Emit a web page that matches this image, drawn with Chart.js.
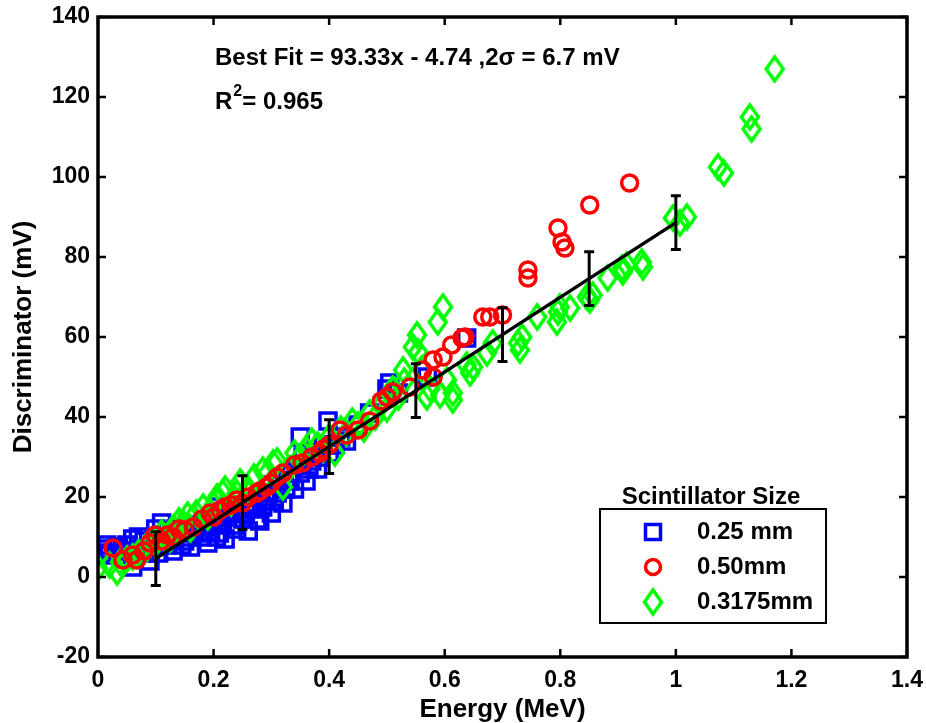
<!DOCTYPE html>
<html>
<head>
<meta charset="utf-8">
<script src="https://cdn.jsdelivr.net/npm/chart.js@4.4.0/dist/chart.umd.min.js"></script>
<style>
  body { margin: 0; background: #fff; }
  #wrap { width: 926px; height: 723px; }
</style>
</head>
<body>
<div id="wrap"><canvas id="plot"></canvas></div>
<script>
/*
  data
*/
var smallX = [0.005, 0.01, 0.02, 0.035, 0.05, 0.06, 0.07, 0.08, 0.09, 0.06, 0.08, 0.1, 0.11, 0.12, 0.12, 0.13,
  0.14, 0.15, 0.16, 0.16, 0.17, 0.18, 0.19, 0.2, 0.21, 0.21, 0.22, 0.23, 0.23, 0.24, 0.25, 0.26, 0.27, 0.28,
  0.29, 0.3, 0.3, 0.31, 0.32, 0.33, 0.34, 0.35, 0.35, 0.36, 0.37, 0.38, 0.39, 0.4, 0.398, 0.42, 0.45, 0.47,
  0.5, 0.505, 0.52, 0.57, 0.638,
  0.015, 0.03, 0.045, 0.055, 0.075, 0.095, 0.105, 0.125, 0.135, 0.145, 0.155, 0.175, 0.185, 0.195, 0.205,
  0.215, 0.225, 0.235, 0.245, 0.255, 0.265, 0.275, 0.285, 0.295, 0.305, 0.315, 0.325, 0.335, 0.345, 0.355,
  0.365, 0.375, 0.385, 0.41, 0.43];
var smallY = [7, 5.5, 6, 7.5, 8, 9.5, 10, 6, 4, 2.5, 9, 12, 13.5, 8, 11.5, 6.5,
  11, 9, 7.5, 12, 13, 10, 8.5, 14, 11, 17.5, 9.5, 16, 18, 12, 14.5, 11.5, 17, 14,
  19, 16, 23, 21, 18.5, 24, 22, 26, 35, 24, 29, 27, 33, 31, 39, 35, 38, 41,
  47, 48.5, 46, 50, 59.75,
  8, 7, 5, 6.5, 7, 8, 6, 9.5, 12, 8, 10, 11, 13.5, 11.5, 10,
  13, 15, 13, 17, 16, 18, 14.5, 17.5, 21, 19, 24, 22, 26, 28, 30,
  27, 31, 30, 33, 34];

var midX = [0.026, 0.043, 0.06, 0.067, 0.08, 0.099, 0.13, 0.15, 0.165, 0.194, 0.211, 0.23, 0.24, 0.26,
  0.275, 0.292, 0.32, 0.353, 0.384, 0.4, 0.419, 0.45, 0.51, 0.54, 0.562, 0.58, 0.58, 0.597, 0.612, 0.63,
  0.635, 0.666, 0.678, 0.7, 0.744, 0.744, 0.796, 0.803, 0.808, 0.851, 0.92,
  0.09, 0.11, 0.12, 0.14, 0.18, 0.2, 0.22, 0.25, 0.28, 0.3, 0.31, 0.34, 0.37, 0.39, 0.43, 0.47, 0.49, 0.5];
var midY = [7.25, 4.25, 5.5, 4.25, 6.5, 10.5, 10, 11.75, 12.5, 16, 16.75, 18, 19.25, 20,
  21, 22.5, 26, 28.5, 31, 33, 36.75, 36.75, 46.25, 47.5, 51.75, 50, 54.25, 55, 58, 59.75,
  60, 65, 65, 65.5, 76.75, 74.75, 87.25, 83.75, 82.25, 93, 98.5,
  8.5, 9, 10.5, 12, 14.5, 15, 17.5, 18.5, 21.5, 23.5, 25, 28, 30, 32, 35.5, 39, 44, 45];

var thinX = [0, 0.033, 0.038, 0.06, 0.085, 0.1, 0.115, 0.13, 0.147, 0.16, 0.182, 0.19, 0.206, 0.216, 0.23,
  0.246, 0.26, 0.285, 0.303, 0.32, 0.33, 0.35, 0.36, 0.38, 0.4, 0.41, 0.43, 0.45, 0.46, 0.48, 0.49, 0.505,
  0.5, 0.52, 0.528, 0.545, 0.552, 0.554, 0.569, 0.592, 0.588, 0.597, 0.604, 0.614, 0.614, 0.638, 0.644,
  0.649, 0.673, 0.683, 0.727, 0.73, 0.734, 0.76, 0.794, 0.796, 0.799, 0.817, 0.846, 0.851, 0.856, 0.882,
  0.907, 0.908, 0.915, 0.941, 0.943, 0.995, 1.007, 1.019, 1.073, 1.083, 1.128, 1.131, 1.171,
  0.02, 0.05, 0.07, 0.09, 0.11, 0.125, 0.14, 0.155, 0.17, 0.2, 0.22, 0.24, 0.27, 0.29, 0.31, 0.34,
  0.37, 0.39, 0.42, 0.44, 0.47, 0.51, 0.53, 0.56, 0.575];
var thinY = [2.25, 1.25, 3.75, 5, 7.25, 8.5, 10, 12.25, 13.5, 12, 17.5, 15, 20, 21, 18.5,
  23.75, 22, 26.75, 28.5, 22.5, 27, 30, 32, 33, 35, 31, 36, 38, 37, 40, 43, 46,
  42, 45, 51.75, 57.5, 60.5, 56.25, 45, 45.5, 63.75, 67.5, 49.25, 46, 44.25, 53, 51,
  52.5, 56, 58.5, 58.5, 56.75, 60, 65, 63.75, 66.25, 67.5, 67.25, 70, 69.25, 70.5, 74.75,
  77.25, 76.25, 78, 78.75, 77.5, 89.75, 88.5, 90, 102.5, 101, 115, 112, 127,
  3, 4.5, 6, 9, 11, 9.5, 14, 15.5, 16, 18, 22, 21, 25, 25.5, 29, 31,
  34, 32, 37, 39, 41, 47, 49, 52, 47];

// best fit line with 2 sigma error bars
var fitX = [0.1, 0.25, 0.4, 0.55, 0.7, 0.85, 1.0];
var fitY = [4.59, 18.59, 32.59, 46.59, 60.59, 74.59, 88.59];
var fitErr = 6.7;

var seriesNames = ['0.25 mm', '0.50mm', '0.3175mm'];
var xTicks = [0, 0.2, 0.4, 0.6, 0.8, 1, 1.2, 1.4];
var yTicks = [-20, 0, 20, 40, 60, 80, 100, 120, 140];

var blue = '#0000ff';
var red = '#ff0000';
var green = '#00ff00';
var font = "'Liberation Sans', Arial, sans-serif";

var pairs = (xs, ys) => xs.map((x, i) => ({x: x, y: ys[i]}));

// matlab style diamond, a bit taller than wide
var diamond = document.createElement('canvas');
diamond.width = 24;
diamond.height = 30;
(function () {
  var c = diamond.getContext('2d');
  c.strokeStyle = green;
  c.lineWidth = 3.5;
  c.beginPath();
  c.moveTo(12, 3);
  c.lineTo(20.5, 15);
  c.lineTo(12, 27);
  c.lineTo(3.5, 15);
  c.closePath();
  c.stroke();
})();

/*
  frame, ticks, error bars, text and legend
*/
var extras = {
  id: 'extras',
  afterDatasetsDraw(chart) {
    var ctx = chart.ctx;
    var xs = chart.scales.x, ys = chart.scales.y;
    ctx.save();
    ctx.strokeStyle = '#000';
    ctx.lineWidth = 3;
    fitX.forEach((x, i) => {
      var px = xs.getPixelForValue(x);
      var top = ys.getPixelForValue(fitY[i] + fitErr);
      var bot = ys.getPixelForValue(fitY[i] - fitErr);
      ctx.beginPath();
      ctx.moveTo(px, top); ctx.lineTo(px, bot);
      ctx.moveTo(px - 5, top); ctx.lineTo(px + 5, top);
      ctx.moveTo(px - 5, bot); ctx.lineTo(px + 5, bot);
      ctx.stroke();
    });
    ctx.restore();
  },
  afterDraw(chart) {
    var ctx = chart.ctx, a = chart.chartArea;
    var xs = chart.scales.x, ys = chart.scales.y;
    ctx.save();
    ctx.strokeStyle = '#000';

    // inward ticks on all four sides
    ctx.lineWidth = 2.5;
    ctx.beginPath();
    xTicks.forEach(v => {
      var px = xs.getPixelForValue(v);
      ctx.moveTo(px, a.bottom); ctx.lineTo(px, a.bottom - 8);
      ctx.moveTo(px, a.top); ctx.lineTo(px, a.top + 8);
    });
    yTicks.forEach(v => {
      var py = ys.getPixelForValue(v);
      ctx.moveTo(a.left, py); ctx.lineTo(a.left + 8, py);
      ctx.moveTo(a.right, py); ctx.lineTo(a.right - 8, py);
    });
    ctx.stroke();

    ctx.lineWidth = 3.5;
    ctx.strokeRect(a.left, a.top, a.right - a.left, a.bottom - a.top);

    // fit text
    ctx.fillStyle = '#000';
    ctx.textBaseline = 'middle';
    ctx.textAlign = 'left';
    ctx.font = 'bold 24px ' + font;
    ctx.fillText('Best Fit = 93.33x - 4.74 ,2\u03c3 = 6.7 mV', 215, 58);
    ctx.fillText('R', 215, 102);
    var rw = ctx.measureText('R').width;
    ctx.font = 'bold 16px ' + font;
    ctx.fillText('2', 215 + rw + 1, 92);
    var sw = ctx.measureText('2').width;
    ctx.font = 'bold 24px ' + font;
    ctx.fillText('= 0.965', 215 + rw + sw + 1, 102);

    // legend
    ctx.font = 'bold 24px ' + font;
    ctx.textAlign = 'center';
    ctx.fillText('Scintillator Size', 711, 497);
    ctx.lineWidth = 2;
    ctx.strokeRect(600, 509, 226, 114);
    ctx.textAlign = 'left';
    var rows = [532, 567, 602];
    var mx = 653;
    ctx.lineWidth = 3.5;
    ctx.strokeStyle = blue;
    ctx.strokeRect(mx - 7.5, rows[0] - 7.5, 15, 15);
    ctx.strokeStyle = red;
    ctx.beginPath();
    ctx.arc(mx, rows[1], 7.5, 0, Math.PI * 2);
    ctx.stroke();
    ctx.drawImage(diamond, mx - 12, rows[2] - 15);
    seriesNames.forEach((s, i) => ctx.fillText(s, 697, rows[i]));
    ctx.restore();
  }
};

var ctx = document.getElementById('plot');

var chart = new Chart(ctx, {
  type: 'scatter',
  data: {
    datasets: [
      {
        type: 'line',
        label: 'fit',
        data: pairs(fitX, fitY),
        borderColor: '#000',
        borderWidth: 3.5,
        pointRadius: 0,
        showLine: true,
        order: 0
      },
      {
        label: seriesNames[1],
        data: pairs(midX, midY),
        pointStyle: 'circle',
        pointRadius: 8,
        borderWidth: 3.5,
        borderColor: red,
        backgroundColor: 'rgba(0,0,0,0)',
        order: 1
      },
      {
        label: seriesNames[2],
        data: pairs(thinX, thinY),
        pointStyle: diamond,
        pointRadius: 12,
        borderColor: green,
        backgroundColor: 'rgba(0,0,0,0)',
        order: 2
      },
      {
        label: seriesNames[0],
        data: pairs(smallX, smallY),
        pointStyle: 'rect',
        pointRadius: 11.3,
        borderWidth: 3.5,
        borderColor: blue,
        backgroundColor: 'rgba(0,0,0,0)',
        order: 3
      }
    ]
  },
  options: {
    responsive: true,
    maintainAspectRatio: false,
    animation: false,
    layout: {
      padding: {top: 17, right: 19, left: 0, bottom: 0}
    },
    plugins: {
      legend: {display: false},
      tooltip: {enabled: false}
    },
    scales: {
      x: {
        type: 'linear',
        min: 0,
        max: 1.4,
        afterFit: s => { s.height = 66; s.paddingLeft = 0; s.paddingRight = 0 },
        afterBuildTicks: s => { s.ticks = xTicks.map(v => ({value: v})) },
        grid: {display: false, drawTicks: false},
        border: {display: false},
        ticks: {
          padding: 10,
          color: '#000',
          font: {family: font, size: 23, weight: 'bold'},
          callback: v => String(Math.round(v * 10) / 10)
        },
        title: {
          display: true,
          text: 'Energy (MeV)',
          color: '#000',
          padding: {top: 0, bottom: 0},
          font: {family: font, size: 26, weight: 'bold', lineHeight: 1}
        }
      },
      y: {
        type: 'linear',
        min: -20,
        max: 140,
        afterFit: s => { s.width = 98; s.paddingTop = 0; s.paddingBottom = 0 },
        afterBuildTicks: s => { s.ticks = yTicks.map(v => ({value: v})) },
        grid: {display: false, drawTicks: false},
        border: {display: false},
        ticks: {
          padding: 8,
          color: '#000',
          font: {family: font, size: 23, weight: 'bold'}
        },
        title: {
          display: true,
          text: 'Discriminator (mV)',
          color: '#000',
          padding: {top: 11, bottom: 0},
          font: {family: font, size: 26, weight: 'bold', lineHeight: 1}
        }
      }
    }
  },
  plugins: [extras]
});
</script>
</body>
</html>
